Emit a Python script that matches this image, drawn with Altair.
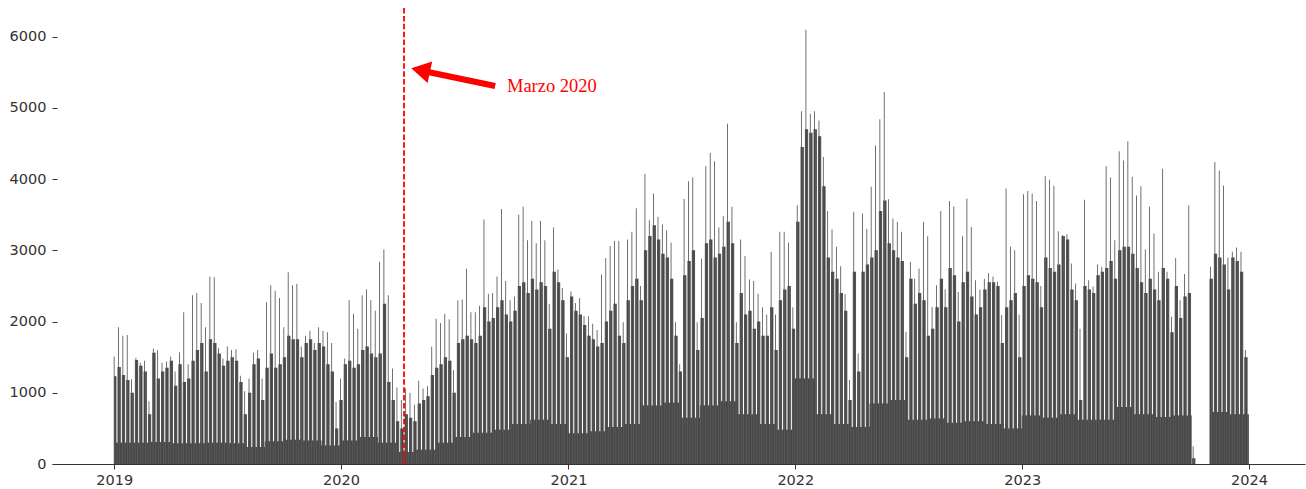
import altair as alt
import pandas as pd

# Weekly peak day (one weekday) per week, Monday-started weeks from 2018-12-31
peak_2019 = [1510, 1920, 1800, 1810, 1190, 1490, 1420, 1450, 880, 1620, 1600, 1420, 1440,
             1510, 1300, 1570, 2130, 1400, 2370, 2400, 2260, 1920, 2630, 2620, 1630, 1480,
             1650, 1600, 1610, 1240, 1020, 1200, 1560, 1600, 1200, 2270, 2510, 2430, 2330,
             1920, 2690, 2510, 2530, 1650, 1800, 1870, 1700, 1920, 1870, 1850, 1700, 870]
peak_2020 = [1200, 1480, 2300, 2110, 1900, 2370, 2450, 2300, 2150, 2840, 3010, 2370, 1340,
             1075, 900, 1060, 1000, 830, 1170, 1060, 1090, 1645, 2040, 1980, 2110, 2030,
             1320, 2300, 2310, 2740, 2130, 2130, 2220, 3430, 2390, 2400, 2630, 3580, 2570,
             2300, 2350, 3500, 3610, 3140, 3410, 3100, 3410, 3140, 2250, 3320, 2730, 2470, 1830]
peak_2021 = [2420, 2260, 2330, 2075, 2075, 1970, 1880, 2660, 2890, 3060, 3130, 3130, 1990,
             3150, 3260, 3590, 2500, 4075, 3420, 3795, 3470, 3360, 3280, 3110, 1990, 1400,
             3720, 3970, 4020, 1990, 2880, 4180, 4365, 4250, 3320, 3480, 4775, 3610, 1990,
             3150, 2920, 2590, 2570, 2390, 2200, 2100, 2980, 2100, 3260, 3260, 3110, 2200]
peak_2022 = [3630, 4950, 6095, 4915, 4950, 4820, 4310, 3550, 3290, 3050, 2775, 2385, 1180,
             3540, 1550, 3515, 3300, 3890, 4470, 4840, 5220, 3715, 3445, 3400, 3260, 1855,
             2840, 2600, 2745, 3400, 3195, 2205, 2510, 3550, 2450, 3690, 3615, 2415, 3195,
             3725, 3325, 2580, 2450, 2600, 2680, 2630, 2560, 2090, 3865, 3050, 3000, 2100]
peak_2023 = [3785, 3830, 3795, 3690, 2500, 4040, 3990, 3905, 3265, 3210, 3225, 2815, 2535,
             1900, 3710, 2580, 2490, 2800, 2770, 4180, 4020, 3140, 4390, 4260, 4530, 4030,
             3770, 3900, 3010, 3610, 3235, 2700, 4145, 2700, 2065, 2890, 2300, 2665, 3630,
             250, 0, 0, 0, 2770, 4240, 4120, 3910, 2900, 2980, 3040, 2980, 1600]

# Typical level of the remaining weekdays of each week
mid_2019 = [1230, 1360, 1250, 1180, 1000, 1460, 1380, 1300, 700, 1560, 1200, 1300, 1350,
            1450, 1100, 1400, 1150, 1200, 1450, 1600, 1700, 1300, 1750, 1700, 1550, 1380,
            1450, 1500, 1450, 1150, 700, 1000, 1400, 1480, 900, 1350, 1550, 1350, 1400,
            1500, 1800, 1750, 1750, 1500, 1700, 1750, 1600, 1700, 1650, 1400, 1300, 500]
mid_2020 = [900, 1400, 1450, 1350, 1400, 1600, 1650, 1550, 1500, 1550, 2250, 1150, 900,
            600, 500, 700, 650, 600, 850, 900, 950, 1250, 1350, 1400, 1500, 1450,
            1000, 1700, 1750, 1800, 1750, 1700, 1800, 2200, 2000, 2050, 2200, 2300, 2100,
            2000, 2150, 2500, 2550, 2400, 2600, 2450, 2550, 2500, 1900, 2700, 2550, 2300, 1500]
mid_2021 = [2350, 2150, 2100, 1950, 1800, 1750, 1650, 1700, 2000, 2150, 2250, 1800, 1700,
            2300, 2500, 2600, 2300, 3000, 3200, 3350, 3150, 2950, 2900, 2600, 1800, 1300,
            2650, 2850, 3000, 1600, 2050, 3100, 3150, 2900, 2950, 3050, 3400, 3100, 1700,
            2400, 2100, 2150, 1900, 2000, 1800, 1800, 2200, 1600, 2300, 2450, 2500, 1900]
mid_2022 = [3400, 4450, 4700, 4650, 4700, 4600, 3900, 2900, 2700, 2600, 2400, 2150, 900,
            2700, 1300, 2700, 2800, 2900, 3000, 3550, 3700, 3100, 3000, 2900, 2850, 1500,
            2600, 2250, 2400, 2300, 1800, 1900, 2200, 2600, 2200, 2750, 2650, 2000, 2550,
            2700, 2350, 2100, 2200, 2450, 2550, 2550, 2500, 1700, 2200, 2300, 2400, 1500]
mid_2023 = [2500, 2650, 2600, 2550, 2200, 2900, 2750, 2700, 2800, 3200, 3150, 2450, 2300,
            900, 2500, 2450, 2400, 2650, 2700, 2750, 2850, 2600, 3000, 3050, 3050, 2950,
            2750, 2550, 2400, 2600, 2450, 2300, 2750, 2600, 1850, 2500, 2050, 2350, 2400,
            80, 0, 0, 0, 2600, 2950, 2900, 2800, 2450, 2900, 2850, 2700, 1500]

# Weekend level, one value per month
low_2019 = [300, 300, 310, 290, 290, 300, 290, 240, 320, 340, 330, 260]
low_2020 = [330, 380, 300, 170, 200, 300, 380, 440, 480, 560, 620, 560]
low_2021 = [430, 460, 520, 560, 820, 860, 650, 820, 880, 700, 560, 480]
low_2022 = [1200, 700, 560, 520, 850, 900, 620, 640, 580, 600, 560, 500]
low_2023 = [680, 650, 700, 620, 620, 800, 700, 660, 680, 0, 730, 700]

year_ticks = [2019, 2020, 2021, 2022, 2023, 2024]
y_ticks = [0, 1000, 2000, 3000, 4000, 5000, 6000]

weekly_peak = peak_2019 + peak_2020 + peak_2021 + peak_2022 + peak_2023
weekly_mid = mid_2019 + mid_2020 + mid_2021 + mid_2022 + mid_2023
monthly_low = low_2019 + low_2020 + low_2021 + low_2022 + low_2023

# Daily table: Tuesday carries the weekly peak, other weekdays the mid level,
# weekends the monthly low
origin = pd.Timestamp("2018-12-31")
days = pd.date_range("2019-01-01", "2023-12-31", freq="D")
values = []
for d in days:
    w = min((d - origin).days // 7, len(weekly_peak) - 1)
    dow = d.dayofweek
    if dow == 1:
        values.append(weekly_peak[w])
    elif dow < 5:
        values.append(weekly_mid[w])
    else:
        values.append(monthly_low[(d.year - 2019) * 12 + d.month - 1])

# Each day's bar is a little wider than a day so neighbouring bars overlap
half = pd.Timedelta(hours=15)
daily = pd.DataFrame({
    "start": (days - half).strftime("%Y-%m-%dT%H:%M:%S"),
    "end": (days + half).strftime("%Y-%m-%dT%H:%M:%S"),
    "count": values,
})

x_scale = alt.Scale(domain=[alt.DateTime(year=2018, month=9, date=23),
                            alt.DateTime(year=2024, month=3, date=31)])
y_scale = alt.Scale(domain=[0, 6400], nice=False, zero=True)

x_axis = alt.Axis(values=[alt.DateTime(year=y, month=1, date=1) for y in year_ticks],
                  format="%Y", title=None, grid=False, tickSize=5, labelPadding=4,
                  labelFont="DejaVu Sans", labelFontSize=14.5, labelColor="#333333",
                  tickColor="#333333", domainColor="#333333", domainWidth=1.2,
                  labelFlush=False)
y_axis = alt.Axis(values=y_ticks, format="d", title=None, grid=False, domain=False,
                  tickSize=5, offset=-5, labelPadding=6, labelFont="DejaVu Sans",
                  labelFontSize=14.5, labelColor="#333333", tickColor="#333333")

bars = alt.Chart(daily).mark_rect(color="#000000", opacity=0.72).encode(
    x=alt.X("start:T", scale=x_scale, axis=x_axis),
    x2="end:T",
    y=alt.Y("count:Q", scale=y_scale, axis=y_axis),
    y2=alt.datum(0),
)

# Marker for the start of the lockdown period
marker = pd.DataFrame({"date": ["2020-04-11T10:00:00"]})
vline = alt.Chart(marker).mark_rule(color="red", strokeWidth=1.8,
                                    strokeDash=[5.5, 2.4]).encode(x="date:T")

shaft_df = pd.DataFrame({"x": ["2020-09-05T00:00:00"], "x2": ["2020-05-20T00:00:00"],
                         "y": [5305], "y2": [5502]})
shaft = alt.Chart(shaft_df).mark_rule(color="red", strokeWidth=6, strokeCap="butt").encode(
    x="x:T", x2="x2:T", y="y:Q", y2="y2:Q")

head_df = pd.DataFrame({"x": ["2020-05-08T00:00:00"], "y": [5526]})
head = alt.Chart(head_df).mark_point(shape="triangle-left", filled=True, size=484,
                                     angle=12, color="red", opacity=1).encode(
    x="x:T", y="y:Q")

label_df = pd.DataFrame({"x": ["2020-09-24T00:00:00"], "y": [5225], "text": ["Marzo 2020"]})
label = alt.Chart(label_df).mark_text(align="left", baseline="alphabetic",
                                      font="Liberation Serif", fontSize=18.5,
                                      color="red").encode(
    x="x:T", y="y:Q", text="text:N")

chart = alt.layer(bars, vline, shaft, head, label).properties(
    width=1253, height=456,
    background="white",
    padding={"left": 52, "top": 8, "right": 1, "bottom": 25},
    autosize=alt.AutoSizeParams(type="none"),
).configure_view(stroke="transparent", strokeWidth=0)

chart.save("out.html", embed_options={"renderer": "svg", "actions": False})
